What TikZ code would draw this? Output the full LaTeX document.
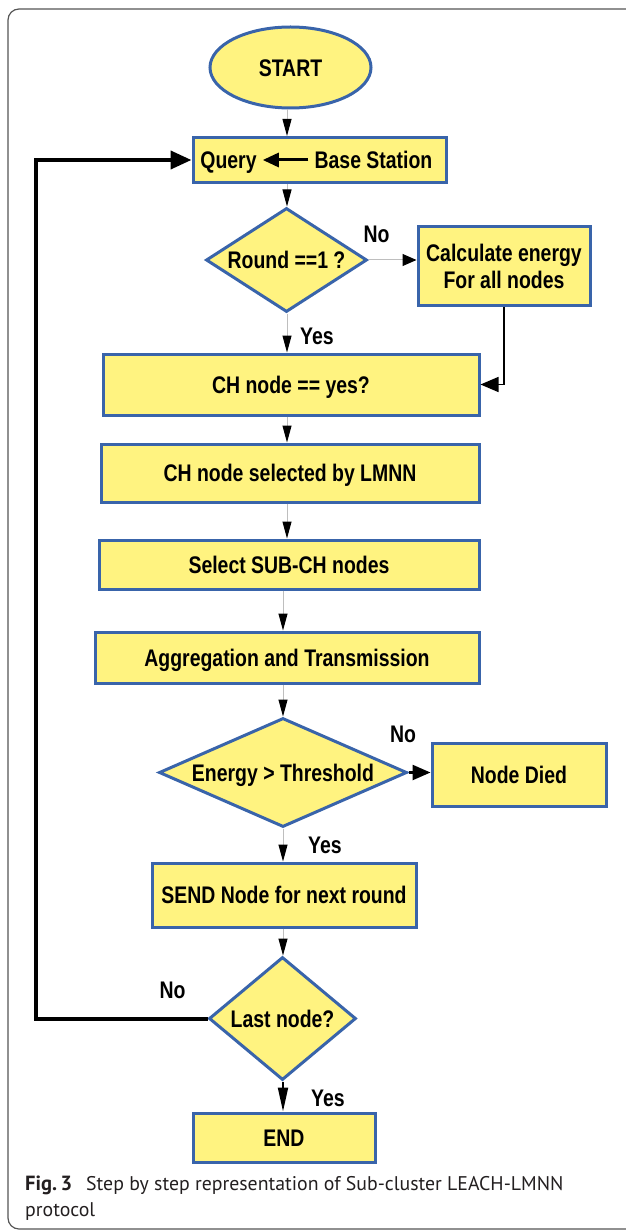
\documentclass[tikz,border=0pt]{standalone}
\usepackage{fontspec}
\setmainfont{Liberation Sans}
\newfontfamily\boxfont{Liberation Sans}[FakeStretch=0.81]
\newfontfamily\capfont{PT Sans}
\usetikzlibrary{shapes.geometric,arrows.meta}
\definecolor{boxfill}{RGB}{255,243,128}
\definecolor{boxline}{RGB}{57,100,170}
\definecolor{thinline}{RGB}{190,190,190}
\definecolor{framecol}{RGB}{85,85,85}
\definecolor{captext}{RGB}{35,31,32}
\begin{document}
\begin{tikzpicture}[x=1pt,y=-1pt,
  every node/.style={inner sep=0pt},
  txt/.style={font=\boxfont\bfseries\fontsize{24}{27}\selectfont, align=center},
  oneline/.style={text height=17.2pt, text depth=0pt},
  box/.style={txt, draw=boxline, fill=boxfill, line width=3pt, rectangle},
  dia/.style={txt, oneline, draw=boxline, fill=boxfill, line width=3pt, diamond},
  flow/.style={draw=thinline, line width=1pt, -{Triangle[length=17pt,width=9pt,color=black]}},
  blackflow/.style={draw=black, line width=1.5pt},
  loopline/.style={draw=black, line width=4pt, -{Triangle[length=21pt,width=18pt]}},
  capt/.style={font=\capfont\fontsize{19.8}{26}\selectfont, text=captext, anchor=base west},
]
\useasboundingbox (0,0) rectangle (625,1230);
% frame
\draw[framecol, line width=1.2pt, rounded corners=11pt] (630,9) -- (8,9) -- (8,1229) -- (630,1229);

\coordinate (ax) at (287,0);
\coordinate (bx) at (283,0);
\coordinate (lx) at (36,0);

% nodes
\node[txt, oneline, draw=boxline, fill=boxfill, line width=3pt, ellipse, minimum width=161pt, minimum height=81pt] (start) at (290.5,67.5) {START};
\node[box, minimum width=253pt, minimum height=45pt] (query) at (319.5,160) {};
\node[txt, oneline] (qtxt) at (228.5,160) {Query};
\node[txt, oneline] (bstxt) at (373.5,160) {Base Station};
\node[dia, shape aspect=1.55, minimum width=161pt, minimum height=104pt] (d1) at (286.5,260) {Round ==1 ?};
\node[box, minimum width=172pt, minimum height=78pt] (calc) at (504,266) {Calculate energy\\For all nodes};
\node[box, oneline, minimum width=376pt, minimum height=61pt] (ch) at (291,384.5) {CH node == yes?};
\node[box, oneline, minimum width=378pt, minimum height=58pt] (chsel) at (290,473) {CH node selected by LMNN};
\node[box, oneline, minimum width=380pt, minimum height=49pt] (sub) at (289,564.5) {Select SUB-CH nodes};
\node[box, oneline, minimum width=384pt, minimum height=51pt] (agg) at (287,657.5) {Aggregation and Transmission};
\node[dia, shape aspect=2.28, minimum width=248pt, minimum height=109pt] (d2) at (283,772.5) {Energy > Threshold};
\node[box, oneline, minimum width=174pt, minimum height=63pt] (died) at (519,774.5) {Node Died};
\node[box, oneline, minimum width=264pt, minimum height=64pt] (send) at (284,895) {SEND Node for next round};
\node[dia, shape aspect=1.2, minimum width=147pt, minimum height=123pt] (d3) at (282.5,1018.5) {Last node?};
\node[box, oneline, minimum width=182pt, minimum height=49pt] (end) at (284,1137.5) {END};

% labels
\node[txt, oneline] (no1) at (376.5,233.5) {No};
\node[txt, oneline] (yes1) at (317,336) {Yes};
\node[txt, oneline] (no2) at (403,734) {No};
\node[txt, oneline] (yes2) at (325,845) {Yes};
\node[txt, oneline] (no3) at (172.5,990) {No};
\node[txt, oneline] (yes3) at (328,1098) {Yes};

% connectors
\draw[flow] (start.south -| ax) -- (query.north -| ax);
\draw[flow] (query.south -| ax) -- (d1.north -| ax);
\draw[flow] (d1.south -| ax) -- (ch.north -| ax);
\draw[flow] (ch.south -| ax) -- (chsel.north -| ax);
\draw[flow] (chsel.south -| ax) -- (sub.north -| ax);
\draw[flow] (sub.south -| bx) -- (agg.north -| bx);
\draw[flow] (agg.south -| bx) -- (d2.north -| bx);
\draw[flow] (d2.south -| bx) -- (send.north -| bx);
\draw[flow] (send.south -| bx) -- (d3.north -| bx);
\draw[flow, -{Triangle[length=14pt,width=12pt,color=black]}] (d1.east) -- (d1.east -| calc.west);
\draw[blackflow, -{Triangle[length=18pt,width=15pt]}] (calc.south) |- (ch.east);
\draw[draw=black, line width=2.5pt, -{Triangle[length=18pt,width=15pt]}] (d2.east) -- (d2.east -| died.west);
\draw[draw=black, line width=2pt, -{Triangle[length=24pt,width=10pt]}] (d3.south -| bx) -- (end.north -| bx);
\draw[draw=black, line width=3pt, -{Triangle[length=16pt,width=14pt]}] ([xshift=-6pt]bstxt.west) -- ([xshift=6pt]qtxt.east);
\draw[loopline] (d3.west) -- (d3.west -| lx) -- (query.west -| lx) -- (query.west);

% caption
\node[capt, font=\capfont\bfseries\fontsize{20.5}{26}\selectfont] (figlbl) at (25,1190.5) {Fig.\,3};
\node[capt] (cap1) at (86,1190.5) {Step by step representation of Sub-cluster LEACH-LMNN};
\node[capt] (cap2) at (25,1216.5) {protocol};
\end{tikzpicture}
\end{document}
